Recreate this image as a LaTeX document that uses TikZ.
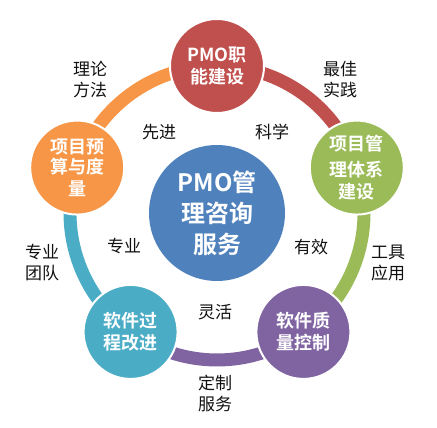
\documentclass[tikz,border=0pt]{standalone}
\usepackage{fontspec}
\setmainfont{Noto Sans CJK SC}[BoldFont={Noto Sans CJK SC Bold}]
\usepackage{tikz}
\usepackage{xcolor}
\usetikzlibrary{calc,backgrounds}
\definecolor{Hub}{HTML}{4F81BD}
\definecolor{Red}{HTML}{C0504D}
\definecolor{Green}{HTML}{9BBB59}
\definecolor{Purple}{HTML}{8064A2}
\definecolor{Teal}{HTML}{4BACC6}
\definecolor{Orange}{HTML}{F79646}
\definecolor{Ink}{HTML}{111111}
\tikzset{
  hub/.style={circle,fill=Hub,minimum size=136pt,inner sep=0pt,align=center,text=white,font=\fontsize{24}{31}\selectfont\bfseries},
  unit/.style={circle,draw=white,line width=2pt,minimum size=94pt,inner sep=0pt,align=center,text=white,font=\fontsize{18}{22}\selectfont\bfseries},
  ringarc/.style={line width=13pt},
  tag/.style={align=center,text=Ink,inner sep=1pt,font=\fontsize{17}{21}\selectfont}
}
\begin{document}
\begin{tikzpicture}[x=1pt,y=1pt]
  \useasboundingbox (0,0) rectangle (437,428);
  \coordinate (o) at (217,215);
  \node[hub] (pmo) at (o) {PMO管\\理咨询\\服务};
  \node[unit,fill=Red] (func) at ($(o)+(90:147)$) {PMO职\\能建设};
  \node[unit,fill=Green] (sys) at ($(o)+(18:147)$) {项目管\\[4pt]理体系\\建设};
  \node[unit,fill=Purple] (qa) at ($(o)+(-54:147)$) {软件质\\量控制};
  \node[unit,fill=Teal] (proc) at ($(o)+(-126:147)$) {软件过\\程改进};
  \node[unit,fill=Orange] (budget) at ($(o)+(162:147)$) {项目预\\[-2pt]算与度\\量};
  \begin{scope}[on background layer]
    \draw[ringarc,draw=Red] (func.center) arc[start angle=90,end angle=18,radius=147];
    \draw[ringarc,draw=Green] (sys.center) arc[start angle=18,end angle=-54,radius=147];
    \draw[ringarc,draw=Purple] (qa.center) arc[start angle=-54,end angle=-126,radius=147];
    \draw[ringarc,draw=Teal] (proc.center) arc[start angle=-126,end angle=-198,radius=147];
    \draw[ringarc,draw=Orange] (budget.center) arc[start angle=162,end angle=90,radius=147];
  \end{scope}
  % outer labels
  \node[tag] (t1) at (90,348) {理论\\方法};
  \node[tag] (t2) at (340,348) {最佳\\实践};
  \node[tag] (t3) at (388,165) {工具\\应用};
  \node[tag] (t4) at (215,35) {定制\\服务};
  \node[tag] (t5) at (42,165) {专业\\团队};
  % inner labels
  \node[tag] (i1) at (159,296) {先进};
  \node[tag] (i2) at (272,296) {科学};
  \node[tag] (i3) at (311,181) {有效};
  \node[tag] (i4) at (215,116) {灵活};
  \node[tag] (i5) at (124,182) {专业};
\end{tikzpicture}
\end{document}
